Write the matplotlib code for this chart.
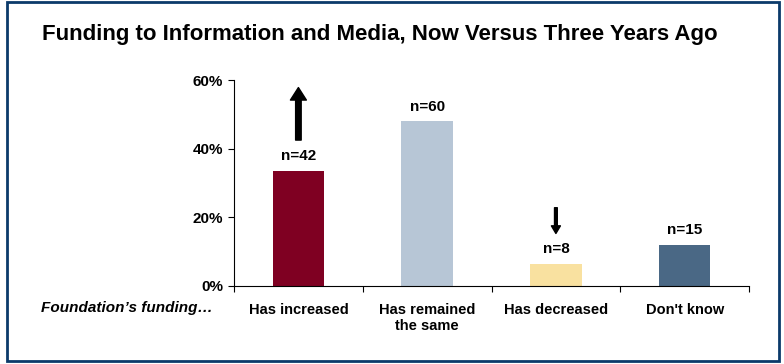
import matplotlib.pyplot as plt
from matplotlib.patches import Rectangle
from matplotlib.ticker import FuncFormatter

plt.rcParams['font.family'] = ['Liberation Sans Narrow', 'Liberation Sans', 'DejaVu Sans']

categories = ["Has increased", "Has remained\nthe same", "Has decreased", "Don't know"]
counts = [42, 60, 8, 15]
total = 125
shares = [c / total * 100 for c in counts]
colors = ["#7f0022", "#b7c6d6", "#f9e1a0", "#4a6885"]

fig = plt.figure(figsize=(7.84, 3.64), dpi=100)
ax = fig.add_axes([0.2985, 0.2143, 0.6569, 0.5659])

x = range(len(categories))
ax.bar(x, shares, width=0.4, color=colors)
for i, (s, n) in enumerate(zip(shares, counts)):
    ax.text(i, s + 2.2, f"n={n}", ha="center", va="bottom",
            fontsize=11, fontweight="bold")

# trend arrows over the first and third bars
ax.annotate("", xy=(0, 57.8), xytext=(0, 42.5),
            arrowprops=dict(arrowstyle="simple,head_width=1.15,head_length=0.9,tail_width=0.4",
                            color="black", shrinkA=0, shrinkB=0))
ax.annotate("", xy=(2, 15.3), xytext=(2, 22.8),
            arrowprops=dict(arrowstyle="simple,head_width=0.65,head_length=0.55,tail_width=0.2",
                            color="black", shrinkA=0, shrinkB=0))

ax.set_xlim(-0.5, 3.5)
ax.set_ylim(0, 60)
ax.set_yticks([0, 20, 40, 60])
ax.yaxis.set_major_formatter(FuncFormatter(lambda v, p: f"{v:.0f}%"))
ax.set_xticks([-0.5, 0.5, 1.5, 2.5, 3.5])
ax.set_xticklabels([])
ax.set_xticks(list(x), minor=True)
ax.set_xticklabels(categories, minor=True, fontsize=10.5, fontweight="bold")
ax.tick_params(axis="x", which="minor", length=0, pad=12)
ax.tick_params(axis="x", which="major", length=4, direction="out")
ax.tick_params(axis="y", length=4, direction="out", labelsize=11, pad=4)
for lbl in ax.get_yticklabels():
    lbl.set_fontweight("bold")
for side in ["top", "right"]:
    ax.spines[side].set_visible(False)

fig.text(0.272, 0.154, "Foundation\u2019s funding\u2026", ha="right", va="center",
         fontsize=11, fontweight="bold", fontstyle="italic")
fig.text(0.485, 0.905, "Funding to Information and Media, Now Versus Three Years Ago",
         ha="center", va="center", fontsize=16, fontweight="bold")

fig.patches.append(Rectangle((0.009, 0.008), 0.985, 0.986, transform=fig.transFigure,
                             fill=False, edgecolor="#0b3a6a", linewidth=2))

fig.savefig("out.png", dpi=100)
